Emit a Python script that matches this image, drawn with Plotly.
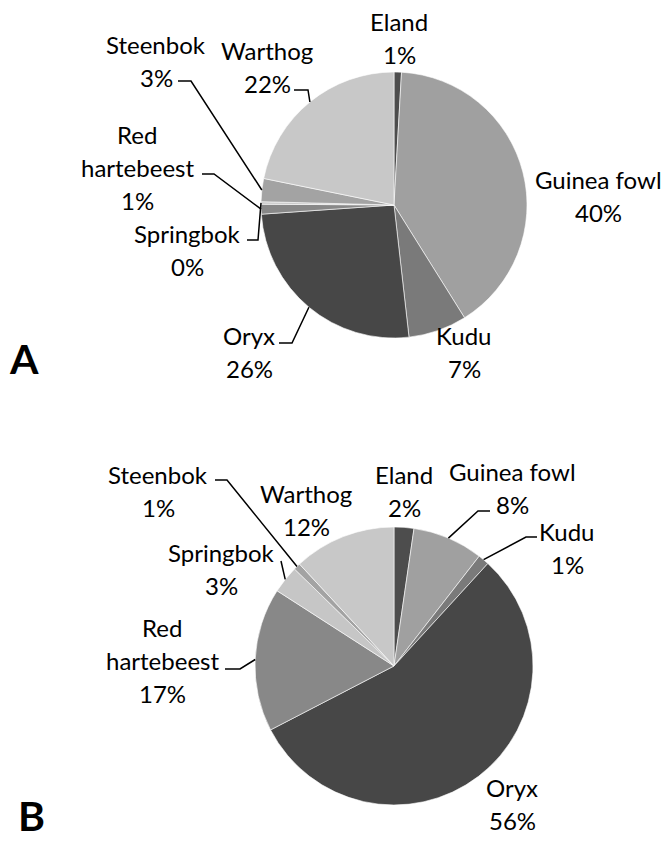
import math
import plotly.graph_objects as go

# ---------------- data ----------------
categories = ["Eland", "Guinea fowl", "Kudu", "Oryx", "Red hartebeest",
              "Springbok", "Steenbok", "Warthog"]
values_a = [0.9, 40.2, 7.1, 25.7, 1.2, 0.3, 2.8, 21.8]
values_b = [2.3, 8.2, 1.3, 55.6, 16.7, 3.2, 0.8, 11.9]
panel_letters = ["A", "B"]
label_names = [["Eland"], ["Guinea fowl"], ["Kudu"], ["Oryx"],
               ["Red", "hartebeest"], ["Springbok"], ["Steenbok"], ["Warthog"]]

# ---------------- style ----------------
colors = ["#4d4d4d", "#a0a0a0", "#7a7a7a", "#474747", "#888888",
          "#c6c6c6", "#a3a3a3", "#c8c8c8"]
OFF = 8                      # browser body margin
PAGE_W, PAGE_H = 670, 844
W, H = PAGE_W - 2 * OFF, PAGE_H - 2 * OFF   # keep page free of scrollbars
X0, X1 = OFF, OFF + W
Y0, Y1 = OFF, OFF + H
FONT = "Lato"
FS = 24
LS = 33                      # line spacing of labels (px)

# pie geometry (page pixel centre / radius)
pies = [
    dict(cx=394, cy=205, r=133, values=values_a),
    dict(cx=394, cy=666, r=139, values=values_b),
]

# label positions: (centre x, centre y of first line) in page px
label_pos = [
    [(399, 21), (598, 179), (464, 335), (249, 335), (137, 134),
     (187, 233), (156, 44), (267, 50)],
    [(404, 474), (512, 471), (567, 531), (512, 787), (162, 627),
     (221, 552), (158, 474), (306, 493)],
]
# leader-line start points near the label (page px); end point from the slice
leaders = [
    {3: [(279, 343), (292, 343)], 4: [(202, 174), (214, 174)],
     5: [(247, 240), (258, 240)], 6: [(178, 81), (191, 81)],
     7: [(294, 90), (308, 90)]},
    {1: [(490, 511), (478, 511)], 2: [(537, 537), (526, 537)],
     4: [(225, 669), (240, 669)], 5: [(281, 561)],
     6: [(215, 480), (227, 480)]},
]
letter_pos = [(24, 358), (31, 815)]

fig = go.Figure()

annotations = []
shapes = []
for k, p in enumerate(pies):
    cx, cy, r = p["cx"], p["cy"], p["r"]
    fig.add_trace(go.Pie(
        labels=categories, values=p["values"], sort=False,
        direction="clockwise", rotation=0,
        marker=dict(colors=colors, line=dict(color="#ffffff", width=0.6)),
        textinfo="none", hoverinfo="label+percent", showlegend=False,
        domain=dict(x=[(cx - r - X0) / W, (cx + r - X0) / W],
                    y=[(Y1 - cy - r) / H, (Y1 - cy + r) / H]),
    ))
    total = sum(p["values"])
    cum = 0.0
    for i, v in enumerate(p["values"]):
        mid = (cum + v / 2) / total * 2 * math.pi
        cum += v
        pct = round(v / total * 100)
        tx, ty = label_pos[k][i]
        lines = label_names[i] + [f"{pct}%"]
        for j, line in enumerate(lines):
            annotations.append(dict(
                x=tx, y=ty + j * LS, xref="x", yref="y", showarrow=False,
                text=line,
                font=dict(family=FONT, size=FS, color="#000000"),
                xanchor="center", yanchor="middle", align="center"))
        if i in leaders[k]:
            ex = cx + r * math.sin(mid)
            ey = cy - r * math.cos(mid)
            pts = leaders[k][i] + [(ex, ey)]
            path = "M " + " L ".join(f"{x:.1f},{y:.1f}" for x, y in pts)
            shapes.append(dict(type="path", path=path, xref="x", yref="y",
                               line=dict(color="#000000", width=1.5)))
    lx, ly = letter_pos[k]
    annotations.append(dict(
        x=lx, y=ly, xref="x", yref="y", showarrow=False,
        text=f"<b>{panel_letters[k]}</b>",
        font=dict(family=FONT, size=41, color="#000000"),
        xanchor="center", yanchor="middle"))

# invisible cartesian trace providing a page-pixel coordinate system
fig.add_trace(go.Scatter(x=[X0, X1], y=[Y0, Y1], mode="markers",
                         marker=dict(opacity=0), hoverinfo="skip",
                         showlegend=False))

fig.update_layout(
    width=W, height=H,
    margin=dict(l=0, r=0, t=0, b=0),
    paper_bgcolor="#ffffff", plot_bgcolor="rgba(0,0,0,0)",
    xaxis=dict(range=[X0, X1], visible=False, fixedrange=True),
    yaxis=dict(range=[Y1, Y0], visible=False, fixedrange=True),
    annotations=annotations, shapes=shapes,
)

fig.write_html("out.html")
